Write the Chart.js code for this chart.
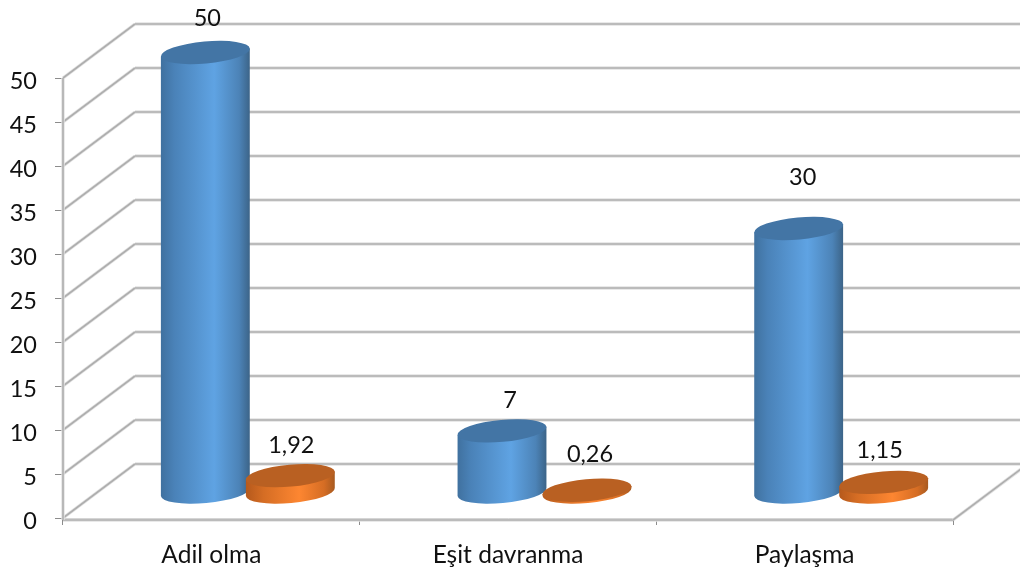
<!DOCTYPE html>
<html lang="tr">
<head>
<meta charset="utf-8">
<title>Adil olma, Eşit davranma, Paylaşma</title>
<script src="https://cdn.jsdelivr.net/npm/chart.js@4"></script>
<style>
  html, body { margin: 0; padding: 0; background: #fff; }
  canvas { display: block; }
</style>
</head>
<body>
<canvas id="chart" width="1020" height="567"></canvas>
<script>
const categories = ['Adil olma', 'Eşit davranma', 'Paylaşma'];
const blueValues = [50, 7, 30];
const orangeValues = [1.92, 0.26, 1.15];
const yTicks = [0, 5, 10, 15, 20, 25, 30, 35, 40, 45, 50];

// Per-label nudges of the value captions, [dx, dy] from the top of each cylinder.
const blueCaptionNudges = [[2, -34], [8, -30], [4, -51]];
const orangeCaptionNudges = [[1, -30], [3, -36], [-4, -32]];

const FONT = 'Lato, "Open Sans", sans-serif';
const DEPTH_X = 72, DEPTH_Y = -54;
const CYL_SHIFT_X = 36.5, CYL_SHIFT_Y = -25.5;
const TILT = -5.2 * Math.PI / 180;
const CAP_RY = 11;

function doubleLine(ctx, x1, y1, x2, y2) {
  ctx.strokeStyle = '#e2e2e2';
  ctx.lineWidth = 3.4;
  ctx.beginPath(); ctx.moveTo(x1, y1); ctx.lineTo(x2, y2); ctx.stroke();
  ctx.strokeStyle = '#aeaeae';
  ctx.lineWidth = 1.6;
  ctx.beginPath(); ctx.moveTo(x1, y1); ctx.lineTo(x2, y2); ctx.stroke();
}

// Back wall and side wall of the 3D box, placed through the value scale.
const boxWalls = {
  id: 'boxWalls',
  beforeDatasetsDraw(chart) {
    const { ctx, chartArea: a, scales: { y } } = chart;
    ctx.save();
    yTicks.forEach(v => {
      const py = y.getPixelForValue(v);
      doubleLine(ctx, a.left, py, a.left + DEPTH_X, py + DEPTH_Y);
      doubleLine(ctx, a.left + DEPTH_X, py + DEPTH_Y, a.right + DEPTH_X, py + DEPTH_Y);
    });
    const floor = y.getPixelForValue(0) + 2;
    doubleLine(ctx, a.left, floor, a.right, floor);
    doubleLine(ctx, a.right, floor, a.right + DEPTH_X, floor + DEPTH_Y);
    doubleLine(ctx, a.left, y.getPixelForValue(50), a.left, floor);
    ctx.restore();
  }
};

// Draws each bar element as a tilted cylinder standing mid-way through the box depth.
const cylinders = {
  id: 'cylinders',
  afterDatasetsDraw(chart) {
    const { ctx } = chart;
    const metas = chart.data.datasets.map((_, i) => chart.getDatasetMeta(i));
    categories.forEach((_, c) => {
      metas.forEach((meta, d) => {
        const el = meta.data[c];
        const ds = chart.data.datasets[d];
        const cx = el.x + CYL_SHIFT_X;
        const top = el.y + CYL_SHIFT_Y;
        const bottom = el.base + CYL_SHIFT_Y;
        const rx = el.width * 0.525;
        const dx = rx * Math.cos(TILT), dy = rx * Math.sin(TILT);

        const grad = ctx.createLinearGradient(cx - dx, 0, cx + dx, 0);
        ds.shade.forEach(([stop, colour]) => grad.addColorStop(stop, colour));
        ctx.save();
        ctx.fillStyle = grad;
        ctx.beginPath();
        ctx.moveTo(cx - dx, top - dy);
        ctx.lineTo(cx - dx, bottom - dy);
        ctx.ellipse(cx, bottom, rx, CAP_RY, TILT, Math.PI, 0, true);
        ctx.lineTo(cx + dx, top + dy);
        ctx.closePath();
        ctx.fill();

        ctx.fillStyle = ds.capColour;
        ctx.beginPath();
        ctx.ellipse(cx, top, rx, CAP_RY, TILT, 0, Math.PI * 2);
        ctx.fill();

        const [nx, ny] = ds.nudges[c];
        ctx.fillStyle = '#111';
        ctx.font = '23.5px ' + FONT;
        ctx.textAlign = 'center';
        ctx.textBaseline = 'middle';
        ctx.fillText(String(ds.data[c]).replace('.', ','), cx + nx, top + ny);
        ctx.restore();
      });
    });
  }
};

new Chart(document.getElementById('chart'), {
  type: 'bar',
  data: {
    labels: categories,
    datasets: [
      {
        data: blueValues,
        backgroundColor: 'transparent',
        capColour: '#4375a5',
        nudges: blueCaptionNudges,
        shade: [[0, '#40719f'], [0.15, '#4a82b8'], [0.6, '#5fa3e3'], [0.88, '#4c83b7'], [1, '#3c6488']]
      },
      {
        data: orangeValues,
        backgroundColor: 'transparent',
        capColour: '#b96022',
        nudges: orangeCaptionNudges,
        shade: [[0, '#b5591c'], [0.2, '#d56d24'], [0.6, '#fd8631'], [0.88, '#d56d24'], [1, '#a85a20']]
      }
    ]
  },
  options: {
    responsive: false,
    animation: false,
    layout: { padding: { top: 78, right: 67, left: 0, bottom: 0 } },
    plugins: { legend: { display: false }, tooltip: { enabled: false } },
    datasets: { bar: { barPercentage: 1, categoryPercentage: 0.573 } },
    scales: {
      x: {
        afterFit(scale) { scale.height = 49; },
        border: { display: true, color: '#aeaeae' },
        grid: { drawOnChartArea: false, tickLength: 7, tickColor: '#8c8c8c' },
        ticks: { color: '#111', font: { family: FONT, size: 24.5 }, padding: 15, maxRotation: 0, autoSkip: false }
      },
      y: {
        min: 0,
        max: 50,
        afterFit(scale) { scale.width = 63; },
        afterBuildTicks(scale) { scale.ticks = yTicks.map(value => ({ value })); },
        border: { display: true, color: '#aeaeae' },
        grid: { drawOnChartArea: false, tickLength: 8, tickColor: '#8c8c8c' },
        ticks: {
          color: '#111',
          font: { family: FONT, size: 23.5, lineHeight: 0.25 },
          padding: 18,
          // A leading empty line sets the numbers slightly below their tick marks.
          callback: value => ['', String(value)]
        }
      }
    }
  },
  plugins: [boxWalls, cylinders]
});
</script>
</body>
</html>
